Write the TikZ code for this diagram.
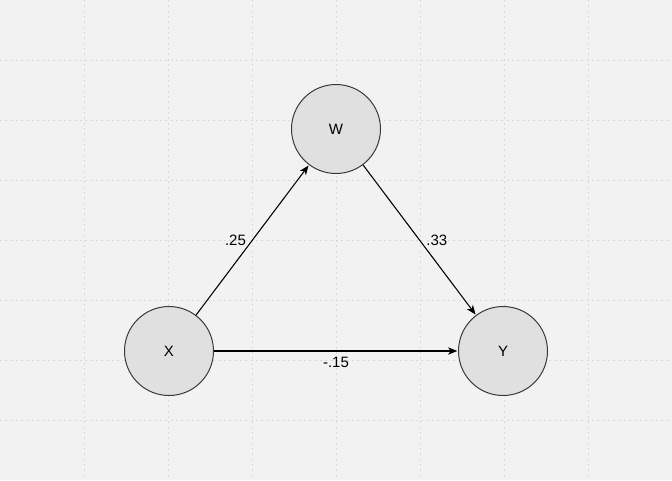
\documentclass[tikz,border=0pt]{standalone}
\usepackage{fontspec}
\setmainfont{Liberation Sans}
\usetikzlibrary{arrows.meta}
\definecolor{bg}{HTML}{F2F2F2}
\definecolor{gridc}{HTML}{D9D9D9}
\definecolor{nodefill}{HTML}{E0E0E0}
\definecolor{nodeline}{HTML}{3A3A3A}
\tikzset{
  var/.style={circle, draw=nodeline, fill=nodefill, line width=0.75pt,
    minimum size=66.75pt, inner sep=0pt, font=\fontsize{11.25}{13}\selectfont},
  path/.style={draw=black, line width=0.8pt,
    -{Stealth[length=7pt, width=5.5pt, inset=2pt]}, shorten >=0.5pt},
  coef/.style={font=\fontsize{11.25}{13}\selectfont, inner sep=0pt},
  gridline/.style={draw=gridc, line width=0.75pt, dash pattern=on 1.5pt off 2.5pt}
}
\begin{document}
\begin{tikzpicture}[x=0.75pt, y=-0.75pt]
  % canvas
  \fill[bg] (0,0) rectangle (672,480);
  \useasboundingbox (0,0) rectangle (672,480);
  % dotted background grid
  \foreach \gx in {84,168,...,588} { \draw[gridline] (\gx,0) -- (\gx,480); }
  \foreach \gy in {60,120,...,420} { \draw[gridline] (0,\gy) -- (672,\gy); }
  % variables
  \node[var] (W) at (336,129) {W};
  \node[var] (X) at (169,351) {X};
  \node[var] (Y) at (503,351) {Y};
  % paths with coefficients
  \draw[path] (X) -- node[coef, midway, xshift=-12.75pt] {.25} (W);
  \draw[path] (W) -- node[coef, midway, xshift=13pt] {.33} (Y);
  \draw[path] (X) -- node[coef, midway, yshift=-8.25pt] {-.15} (Y);
\end{tikzpicture}
\end{document}
